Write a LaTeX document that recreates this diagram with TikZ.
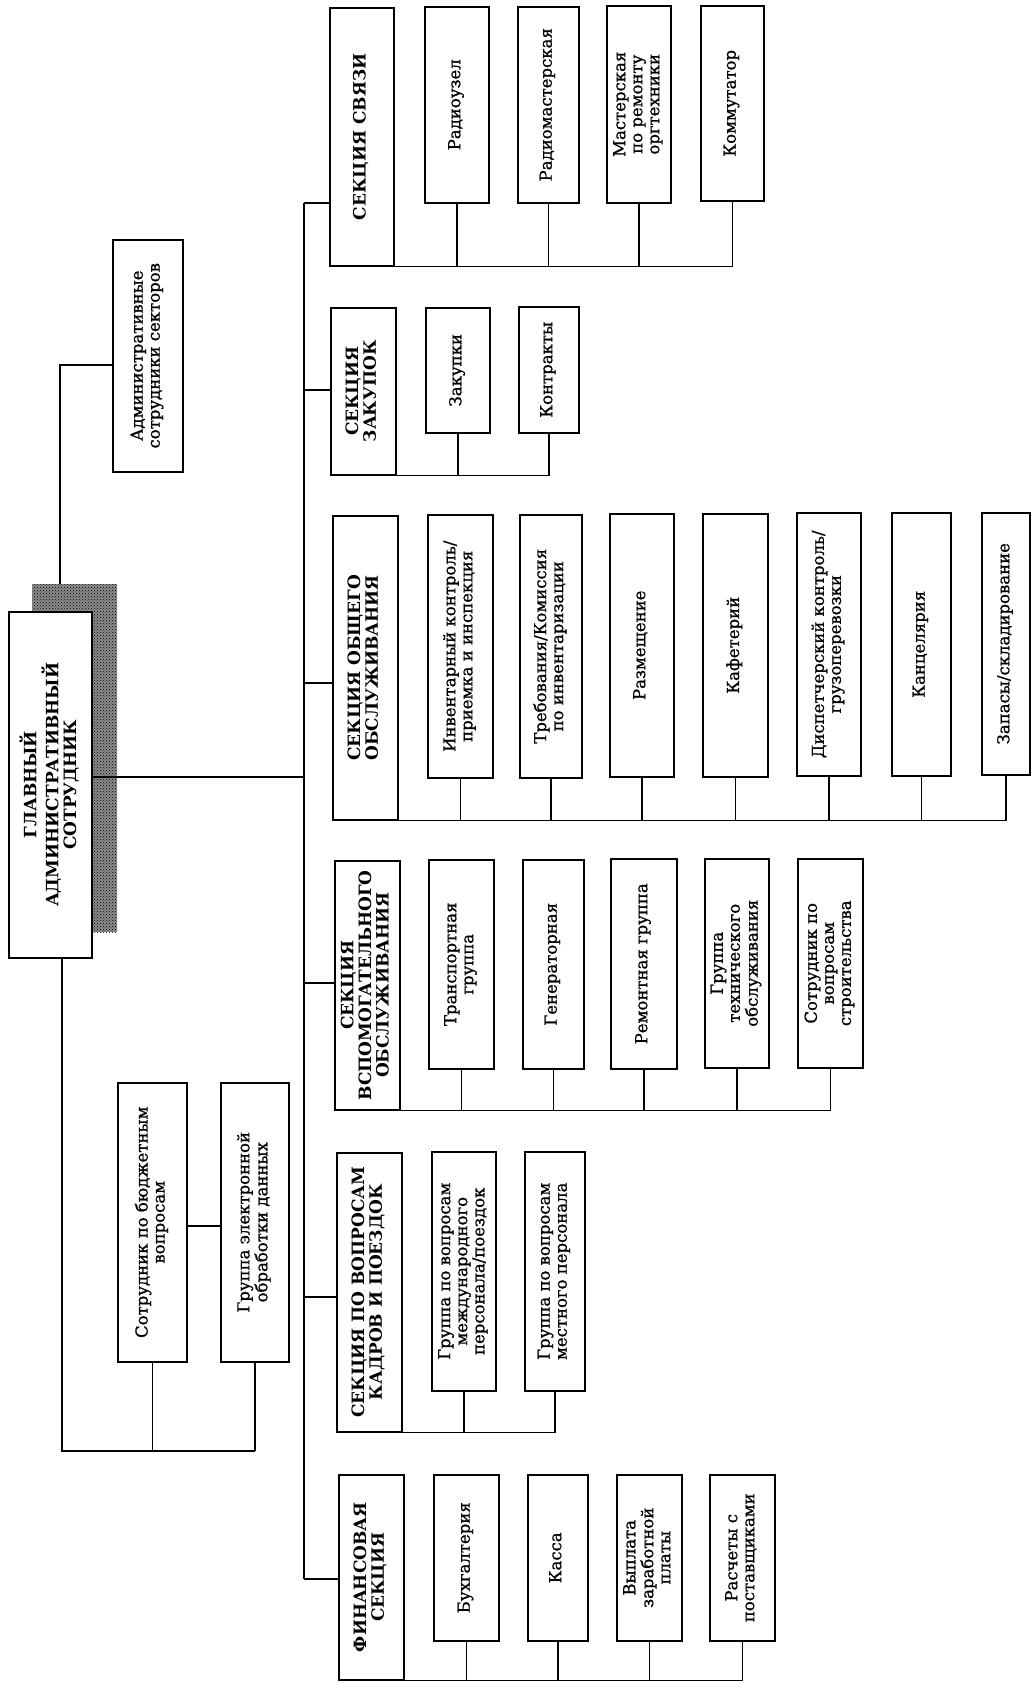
\documentclass[tikz,border=0pt]{standalone}
\usepackage{fontspec}
\setmainfont{DejaVu Serif}
\newfontfamily\txtfont[FakeBold=1]{DejaVu Serif}
\usetikzlibrary{patterns}
\tikzset{
  box/.style={draw, line width=1.5pt, fill=white, inner sep=0pt, font=\txtfont\fontsize{16.5}{17}\selectfont},
  sec/.style={box, font=\bfseries\fontsize{17}{17}\selectfont},
  ln/.style={line width=1.5pt},
  shade/.style={draw=none, inner sep=0pt, preaction={fill=black!45}, pattern=crosshatch dots, pattern color=black},
}
\newcommand\bx[7]{\node[#2, anchor=north west, minimum width={#5pt-#3pt}, minimum height={#6pt-#4pt}] (#1) at (#3,#4) {\rotatebox{90}{\begin{tabular}{@{}c@{}}#7\end{tabular}}};}
\begin{document}
\begin{tikzpicture}[x=1pt,y=-1pt]
\useasboundingbox (0,0) rectangle (1031,1684);

% main box with shadow
\node[shade, anchor=north west, minimum width=85pt, minimum height=348pt] (shd) at (32,584) {};
\bx{main}{sec}{8}{611}{91}{957}{ГЛАВНЫЙ\\АДМИНИСТРАТИВНЫЙ\\СОТРУДНИК}

% staff boxes
\bx{adm}{box}{112}{239}{182}{471}{Административные\\сотрудники секторов}
\bx{bud}{box}{117}{1082}{186}{1361}{Сотрудник по бюджетным\\вопросам}
\bx{edp}{box}{220}{1082}{288}{1361}{Группа электронной\\обработки данных}

% communications
\bx{s1}{sec}{329}{7}{393}{265}{СЕКЦИЯ СВЯЗИ}
\bx{s1a}{box}{424}{6}{488}{202}{Радиоузел}
\bx{s1b}{box}{517}{6}{578}{202}{Радиомастерская}
\bx{s1c}{box}{606}{5}{670}{202}{Мастерская\\по ремонту\\оргтехники}
\bx{s1d}{box}{700}{5}{763}{200}{Коммутатор}

% procurement
\bx{s2}{sec}{330}{307}{395}{474}{СЕКЦИЯ\\ЗАКУПОК}
\bx{s2a}{box}{425}{307}{489}{432}{Закупки}
\bx{s2b}{box}{518}{306}{578}{432}{Контракты}

% general services
\bx{s3}{sec}{332}{515}{397}{819}{СЕКЦИЯ ОБЩЕГО\\ОБСЛУЖИВАНИЯ}
\bx{s3a}{box}{427}{514}{492}{777}{Инвентарный контроль/\\приемка и инспекция}
\bx{s3b}{box}{519}{514}{581}{777}{Требования/Комиссия\\по инвентаризации}
\bx{s3c}{box}{609}{513}{673}{776}{Размещение}
\bx{s3d}{box}{702}{513}{767}{776}{Кафетерий}
\bx{s3e}{box}{796}{512}{860}{775}{Диспетчерский контроль/\\грузоперевозки}
\bx{s3f}{box}{891}{512}{950}{775}{Канцелярия}
\bx{s3g}{box}{981}{512}{1029}{774}{Запасы/складирование}

% support services
\bx{s4}{sec}{334}{860}{399}{1109}{СЕКЦИЯ\\ВСПОМОГАТЕЛЬНОГО\\ОБСЛУЖИВАНИЯ}
\bx{s4a}{box}{428}{859}{493}{1068}{Транспортная\\группа}
\bx{s4b}{box}{522}{859}{583}{1068}{Генераторная}
\bx{s4c}{box}{610}{858}{676}{1068}{Ремонтная группа}
\bx{s4d}{box}{704}{858}{768}{1067}{Группа\\технического\\обслуживания}
\bx{s4e}{box}{797}{858}{862}{1067}{Сотрудник по\\вопросам\\строительства}

% personnel
\bx{s5}{sec}{336}{1152}{401}{1431}{СЕКЦИЯ ПО ВОПРОСАМ\\КАДРОВ И ПОЕЗДОК}
\bx{s5a}{box}{431}{1151}{495}{1390}{Группа по вопросам\\международного\\персонала/поездок}
\bx{s5b}{box}{524}{1151}{584}{1390}{Группа по вопросам\\местного персонала}

% finance
\bx{s6}{sec}{338}{1474}{403}{1679}{ФИНАНСОВАЯ\\СЕКЦИЯ}
\bx{s6a}{box}{433}{1474}{498}{1640}{Бухгалтерия}
\bx{s6b}{box}{527}{1474}{587}{1640}{Касса}
\bx{s6c}{box}{616}{1474}{681}{1640}{Выплата\\заработной\\платы}
\bx{s6d}{box}{709}{1474}{774}{1640}{Расчеты с\\поставщиками}

% connectors around main box
\coordinate (mt) at (60,365);
\draw[ln] (adm.west |- mt) -- (mt) -- (mt |- shd.north);
\coordinate (mb) at (62,1451);
\draw[ln] (mb |- main.south) -- (mb) -- (mb -| edp.south);
\draw[ln] (bud.south) -- (bud.south |- mb);
\draw[ln] (edp.south) -- (edp.south |- mb);
\coordinate (lk) at (200,1226);
\draw[ln] (lk -| bud.east) -- (lk -| edp.west);

% trunk
\coordinate (t0) at (304,777);
\coordinate (t1) at (304,203);
\coordinate (t2) at (304,390);
\coordinate (t3) at (304,683);
\coordinate (t4) at (304,983);
\coordinate (t5) at (304,1297);
\coordinate (t6) at (304,1579);
\draw[ln] (main.east |- t0) -- (t0);
\draw[ln] (t1) -- (t6);
\foreach \t/\s in {t1/s1,t2/s2,t3/s3,t4/s4,t5/s5,t6/s6}
  \draw[ln] (\t) -- (\t -| \s.west);

% section buses
\draw[ln] (s1.south east) -- (s1.south east -| s1d.south);
\foreach \c in {s1a,s1b,s1c,s1d} \draw[ln] (\c.south) -- (\c.south |- s1.south);
\draw[ln] (s2.south east) -- (s2.south east -| s2b.south);
\foreach \c in {s2a,s2b} \draw[ln] (\c.south) -- (\c.south |- s2.south);
\draw[ln] (s3.south east) -- (s3.south east -| s3g.south);
\foreach \c in {s3a,s3b,s3c,s3d,s3e,s3f,s3g} \draw[ln] (\c.south) -- (\c.south |- s3.south);
\draw[ln] (s4.south east) -- (s4.south east -| s4e.south);
\foreach \c in {s4a,s4b,s4c,s4d,s4e} \draw[ln] (\c.south) -- (\c.south |- s4.south);
\draw[ln] (s5.south east) -- (s5.south east -| s5b.south);
\foreach \c in {s5a,s5b} \draw[ln] (\c.south) -- (\c.south |- s5.south);
\draw[ln] (s6.south east) -- (s6.south east -| s6d.south);
\foreach \c in {s6a,s6b,s6c,s6d} \draw[ln] (\c.south) -- (\c.south |- s6.south);
\end{tikzpicture}
\end{document}
